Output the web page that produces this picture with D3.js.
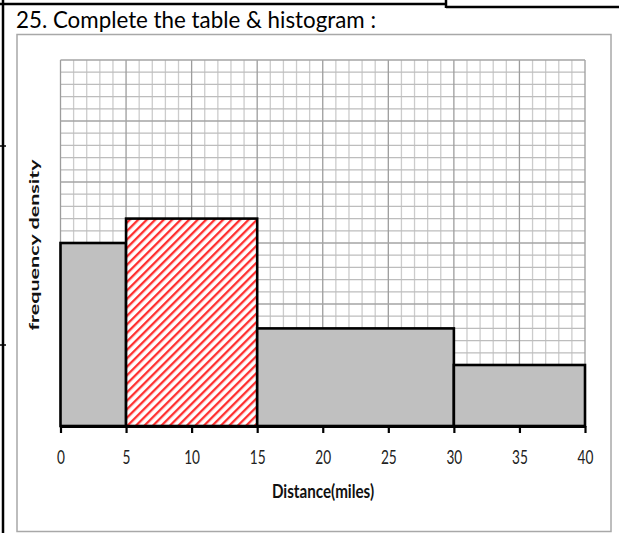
<!DOCTYPE html>
<html>
<head>
<meta charset="utf-8">
<script src="https://cdn.jsdelivr.net/npm/d3@7"></script>
<style>
  html, body { margin: 0; padding: 0; background: #fff; }
  svg { display: block; }
</style>
</head>
<body>
<svg id="chart" width="619" height="533"></svg>
<script>
// ---- data ----
const titleText = "25. Complete the table & histogram :";
const xTitle = "Distance(miles)";
const yTitle = "frequency density";
const binEdges = [0, 5, 15, 30, 40];
const densities = [15, 17, 8, 5];
const highlighted = [false, true, false, false];
const xTicks = [0, 5, 10, 15, 20, 25, 30, 35, 40];

const svg = d3.select("#chart");
const W = 619, H = 533;

// page decorations (table borders of the source document)
const deco = svg.append("g").attr("stroke", "#000").attr("stroke-width", 2.5).attr("fill", "none");
deco.append("line").attr("x1", 3).attr("x2", 3).attr("y1", 0).attr("y2", H);
deco.append("line").attr("x1", 0).attr("x2", 446).attr("y1", 4).attr("y2", 4);
deco.append("line").attr("x1", 446).attr("x2", 446).attr("y1", 0).attr("y2", 8);
deco.append("line").attr("x1", 446).attr("x2", W).attr("y1", 7).attr("y2", 7);
deco.append("line").attr("x1", 0).attr("x2", 6).attr("y1", 146).attr("y2", 146).attr("stroke-width", 1.5);
deco.append("line").attr("x1", 0).attr("x2", 6).attr("y1", 345).attr("y2", 345).attr("stroke-width", 1.5);

// title
svg.append("text")
  .attr("x", 16).attr("y", 28)
  .attr("font-family", "Lato, 'Open Sans', sans-serif")
  .attr("font-size", 23)
  .attr("textLength", 360).attr("lengthAdjust", "spacingAndGlyphs")
  .attr("fill", "#000")
  .text(titleText);

// chart frame
svg.append("rect")
  .attr("x", 17).attr("y", 34.5).attr("width", 594).attr("height", 497)
  .attr("fill", "#fff").attr("stroke", "#a8a8a8").attr("stroke-width", 1.5);

// scales
const x = d3.scaleLinear().domain([0, 40]).range([60.5, 585]);
const y = d3.scaleLinear().domain([0, 30]).range([426, 60]);

// grid
const grid = svg.append("g");
const minorX = d3.range(0, 41, 1).filter(v => v % 5 !== 0);
const majorX = d3.range(0, 41, 5);
const minorY = d3.range(0, 31, 1).filter(v => v % 5 !== 0);
const majorY = d3.range(0, 31, 5);
grid.selectAll(".mx").data(minorX).join("line")
  .attr("x1", d => x(d)).attr("x2", d => x(d)).attr("y1", y(30)).attr("y2", y(0))
  .attr("stroke", "#cccccc").attr("stroke-width", 1.3);
grid.selectAll(".my").data(minorY).join("line")
  .attr("y1", d => y(d)).attr("y2", d => y(d)).attr("x1", x(0)).attr("x2", x(40))
  .attr("stroke", "#bdbdbd").attr("stroke-width", 1.3);
grid.selectAll(".Mx").data(majorX).join("line")
  .attr("x1", d => x(d)).attr("x2", d => x(d)).attr("y1", y(30)).attr("y2", y(0))
  .attr("stroke", "#9d9d9d").attr("stroke-width", 1.3);
grid.selectAll(".My").data(majorY).join("line")
  .attr("y1", d => y(d)).attr("y2", d => y(d)).attr("x1", x(0)).attr("x2", x(40))
  .attr("stroke", "#a5a5a5").attr("stroke-width", 1.3);

// hatch pattern
const defs = svg.append("defs");
const pat = defs.append("pattern")
  .attr("id", "hatch").attr("patternUnits", "userSpaceOnUse")
  .attr("width", 6).attr("height", 6)
  .attr("patternTransform", "rotate(45)");
pat.append("rect").attr("width", 6).attr("height", 6).attr("fill", "#fff");
pat.append("rect").attr("x", 0).attr("y", 0).attr("width", 2.1).attr("height", 6).attr("fill", "#ff3030");
pat.append("rect").attr("x", 2.1).attr("y", 0).attr("width", 0.9).attr("height", 6).attr("fill", "#ffb8b8");

// bars
const bars = binEdges.slice(0, -1).map((lo, i) => ({lo, hi: binEdges[i + 1], d: densities[i], h: highlighted[i]}));
svg.append("g").selectAll("rect").data(bars).join("rect")
  .attr("x", d => x(d.lo)).attr("width", d => x(d.hi) - x(d.lo))
  .attr("y", d => y(d.d)).attr("height", d => y(0) - y(d.d))
  .attr("fill", d => d.h ? "url(#hatch)" : "#c0c0c0")
  .attr("stroke", "#000").attr("stroke-width", 2.6);

// x axis
const xAxis = svg.append("g")
  .attr("transform", `translate(0,${y(0)})`)
  .call(d3.axisBottom(x).tickValues(xTicks).tickSize(7).tickSizeOuter(0).tickFormat(d3.format("d")));
xAxis.select(".domain").attr("stroke", "#000").attr("stroke-width", 3);
xAxis.selectAll(".tick line").attr("stroke", "#000").attr("stroke-width", 2.2);
xAxis.selectAll(".tick text")
  .attr("y", 0).attr("dy", 0)
  .attr("font-family", "Lato, sans-serif")
  .attr("font-size", 19.5)
  .attr("fill", "#222")
  .attr("transform", "translate(0,38) scale(0.7,1)");

// x title
svg.append("text")
  .attr("transform", `translate(323,498) scale(0.8,1)`)
  .attr("text-anchor", "middle")
  .attr("font-family", "Lato, sans-serif")
  .attr("font-weight", "bold")
  .attr("font-size", 19)
  .attr("fill", "#111")
  .text(xTitle);

// y title
svg.append("text")
  .attr("transform", `translate(39,245) scale(0.6,1) rotate(-90)`)
  .attr("text-anchor", "middle")
  .attr("font-family", "Lato, sans-serif")
  .attr("font-weight", "bold")
  .attr("font-size", 21.5)
  .attr("fill", "#111")
  .text(yTitle);
</script>
</body>
</html>
